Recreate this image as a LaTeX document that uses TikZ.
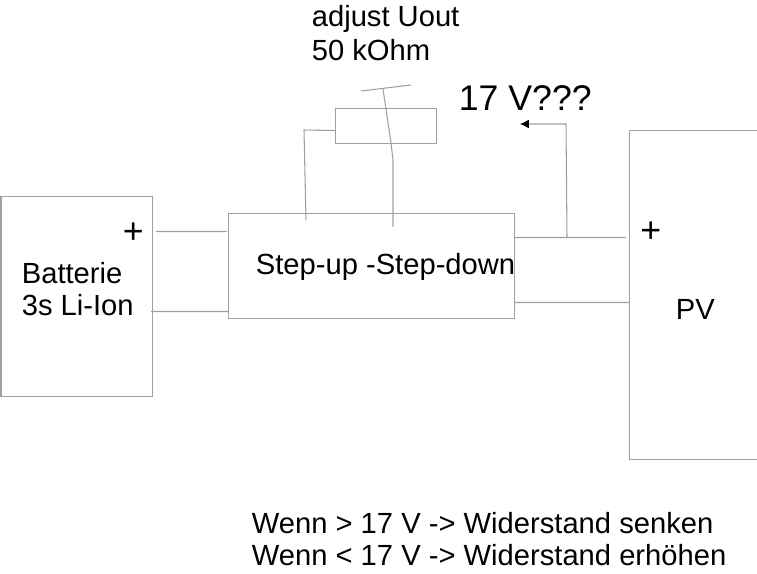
\documentclass[tikz,border=0pt]{standalone}
\usepackage{fontspec}
\setmainfont{Liberation Sans}
\usepackage{xcolor}
\usetikzlibrary{positioning,arrows.meta,calc}
\definecolor{wiregray}{RGB}{160, 160, 160}

\begin{document}
\begin{tikzpicture}[
    x=0.02cm, y=-0.02cm,
    block/.style={rectangle, draw=wiregray, line width=0.6pt, inner sep=0pt, anchor=north west},
    wire/.style={draw=wiregray, line width=0.6pt},
    arrow/.style={wire, -{Latex[length=5pt,width=5pt,black]}},
    lbl/.style={inner sep=0pt, anchor=base west, align=left, font=\fontsize{16.6}{19}\selectfont},
    biglbl/.style={inner sep=0pt, anchor=base west, font=\fontsize{20.3}{24}\selectfont}
]
\useasboundingbox (0,0) rectangle (757,574);
% blocks
\node[block, minimum width=3.03cm, minimum height=4cm] (batt) at (0.5,196) {};
\node[block, minimum width=5.72cm, minimum height=2.1cm] (conv) at (228,213) {};
\node[block, minimum width=2.02cm, minimum height=0.7cm] (pot) at (335,108) {};
\node[block, minimum width=3cm, minimum height=6.58cm] (pv) at (629,130) {};
% labels
\node[lbl] (battlbl) at (21.5,283) {Batterie};
\node[lbl] (battlbl2) at (21.5,315.5) {3s Li-Ion};
\node[lbl] (convlbl) at (255.5,274.5) {Step-up -Step-down};
\node[lbl] (pvlbl) at (675.5,319) {PV};
\node[lbl] (adj) at (311.5,27) {adjust Uout};
\node[lbl] (ohm) at (311.5,60.5) {50 kOhm};
\node[biglbl] (volt) at (458.5,110.5) {17 V???};
\node[biglbl] (plusa) at (122.5,243) {+};
\node[biglbl] (plusb) at (640,242) {+};
\node[lbl] (rulea) at (251.5,533.5) {Wenn > 17 V -> Widerstand senken};
\node[lbl] (ruleb) at (251.5,565.5) {Wenn < 17 V -> Widerstand erhöhen};
% free ends
\coordinate (tip) at (520,124);
\coordinate (wipera) at (361,91);
\coordinate (wiperb) at (411,85);
\coordinate (wiperm) at (383,89);
% wires
\draw[wire] ($(batt.east)+(3,-65)$) -- ($(conv.west)+(-1,-34.5)$);
\draw[wire] ($(batt.east)+(-2,15)$) -- ($(conv.west)+(0,45.5)$);
\draw[wire] ($(conv.east)+(0,-28.5)$) -- ($(pv.west)+(-3,-57.5)$);
\draw[wire] ($(conv.east)+(-1,36.5)$) -- ($(pv.west)+(0,7.5)$);
\draw[arrow] ($(conv.east)+(52,-28.5)$) -- (566,124) -- (tip);
\draw[wire] ($(pot.west)+(0,4.5)$) -- (304,130) -- (306,220);
\draw[wire] (wipera) -- (wiperb);
\draw[wire] (wiperm) -- (391,143) -- (393,160) -- (393,227);
\end{tikzpicture}
\end{document}
